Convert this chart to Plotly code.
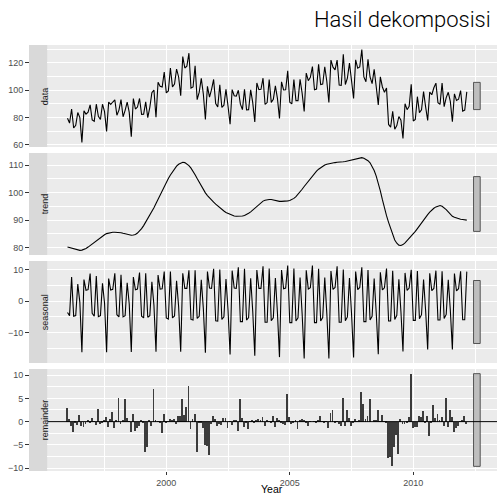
import numpy as np
import plotly.graph_objects as go

# STL decomposition of a monthly index, Jan 1996 - Mar 2012
start_year = 1996

trend = [
    80.2, 80.0, 79.7, 79.5, 79.3, 79.1, 79.0, 79.1, 79.3, 79.7, 80.2, 80.8,
    81.4, 82.0, 82.6, 83.2, 83.8, 84.3, 84.7, 85.1, 85.3, 85.5, 85.6, 85.6,
    85.6, 85.5, 85.4, 85.2, 85.0, 84.8, 84.6, 84.5, 84.6, 84.8, 85.3, 86.0,
    86.9, 88.0, 89.2, 90.5, 91.8, 93.1, 94.5, 96.0, 97.6, 99.2, 100.8, 102.3,
    103.7, 105.1, 106.4, 107.6, 108.7, 109.6, 110.3, 110.8, 111.0, 110.9, 110.5, 109.8,
    108.9, 107.8, 106.5, 105.1, 103.7, 102.3, 101.0, 99.9, 98.9, 98.0, 97.2, 96.5,
    95.8, 95.1, 94.5, 93.9, 93.3, 92.8, 92.4, 92.0, 91.7, 91.5, 91.4, 91.4,
    91.4, 91.5, 91.7, 92.0, 92.5, 93.0, 93.7, 94.4, 95.1, 95.8, 96.4, 96.9,
    97.2, 97.4, 97.5, 97.5, 97.3, 97.1, 96.9, 96.8, 96.8, 96.8, 96.9, 97.0,
    97.1, 97.4, 97.9, 98.5, 99.3, 100.2, 101.2, 102.2, 103.2, 104.2, 105.2, 106.1,
    107.0, 107.8, 108.5, 109.1, 109.6, 110.0, 110.3, 110.5, 110.7, 110.8, 110.9, 111.0,
    111.0, 111.1, 111.2, 111.3, 111.5, 111.7, 111.9, 112.1, 112.3, 112.5, 112.6, 112.7,
    112.5, 112.1, 111.6, 110.8, 109.6, 108.0, 106.0, 103.5, 100.6, 97.4, 94.2, 91.6,
    89.2, 86.8, 84.6, 82.8, 81.6, 80.9, 80.8, 81.1, 81.7, 82.5, 83.3, 84.1,
    85.0, 85.9, 86.9, 88.0, 89.1, 90.1, 91.1, 92.0, 92.9, 93.7, 94.3, 94.8,
    95.2, 95.3, 95.0, 94.5, 93.8, 93.0, 92.1, 91.4, 91.0, 90.7, 90.5, 90.3,
    90.2, 90.1, 90.0,
]

seasonal = [
    -3.6, -4.6, 7.6, -4.8, -4.6, 5.4, -0.4, -16.2, 6.8, 3.4, 3.6, 8.7,
    -3.9, -4.8, 7.9, -4.9, -4.6, 5.6, -0.6, -16.2, 7.1, 3.5, 3.7, 8.8,
    -4.3, -5.0, 8.3, -5.0, -4.6, 5.8, -0.9, -16.1, 7.6, 3.6, 3.8, 9.0,
    -4.8, -5.3, 8.8, -5.1, -4.6, 6.1, -1.3, -16.0, 8.2, 3.8, 3.9, 9.3,
    -5.3, -5.7, 9.3, -5.3, -4.7, 6.4, -1.8, -16.0, 8.8, 4.0, 4.0, 9.7,
    -5.8, -6.0, 9.7, -5.5, -4.8, 6.7, -2.3, -16.3, 9.3, 4.1, 4.0, 10.2,
    -6.2, -6.3, 10.0, -5.8, -5.0, 7.0, -2.8, -16.9, 9.6, 4.1, 4.0, 10.7,
    -6.5, -6.5, 10.2, -6.0, -5.2, 7.2, -3.2, -17.3, 9.8, 4.0, 4.0, 11.0,
    -6.7, -6.7, 10.3, -6.2, -5.3, 7.3, -3.6, -17.7, 9.8, 3.9, 4.1, 11.2,
    -6.8, -6.8, 10.3, -6.3, -5.3, 7.4, -3.9, -18.1, 9.7, 3.8, 4.2, 11.2,
    -6.8, -6.8, 10.2, -6.3, -5.2, 7.4, -4.0, -18.1, 9.5, 3.7, 4.3, 11.0,
    -6.7, -6.7, 10.0, -6.2, -5.0, 7.3, -3.9, -17.8, 9.3, 3.6, 4.3, 10.7,
    -6.5, -6.5, 9.8, -6.0, -4.8, 7.1, -3.6, -16.8, 9.1, 3.5, 4.2, 10.3,
    -6.3, -6.3, 9.6, -5.8, -4.5, 6.9, -3.3, -15.9, 8.9, 3.4, 4.1, 9.9,
    -6.1, -6.1, 9.5, -5.6, -4.3, 6.8, -3.0, -15.3, 8.8, 3.3, 4.0, 9.6,
    -6.0, -6.0, 9.4, -5.5, -4.2, 6.7, -2.8, -15.3, 8.7, 3.2, 3.9, 9.4,
    -5.9, -5.9, 9.3,
]

remainder = [
    2.9, 0.6, -1.0, -2.3, -0.3, -0.8, 1.4, -1.0, -1.2, -0.5, 0.2, -0.2,
    0.8, 0.1, -0.7, 2.7, -0.6, -0.1, 0.2, 1.0, -1.1, 0.6, 2.1, -1.4,
    0.4, 5.0, -0.6, 0.4, 4.9, 0.8, 0.1, -2.3, 1.7, -2.1, -1.4, -1.0,
    0.3, -0.2, -6.5, -5.5, 0.3, -1.0, 7.0, 0.2, 0.1, -0.1, -2.4, 1.7,
    -0.3, 0.1, 0.6, 0.2, 0.6, -0.6, 1.2, 1.2, 4.8, 1.4, 3.1, 7.6,
    -1.5, 0.6, 1.7, -6.5, -0.3, -0.3, -1.4, -5.0, -5.3, -7.1, -0.5, 1.2,
    0.6, -1.0, -0.5, -0.7, 0.8, 0.8, -1.3, 0.1, -0.8, 0.4, 0.3, -2.1,
    4.9, 0.8, -1.2, -0.3, -1.5, 0.1, 0.4, -0.3, 0.4, 0.6, 0.3, 0.9,
    -0.9, 0.3, 0.1, -0.2, 1.3, -1.2, 0.8, 0.2, -0.4, -0.5, -0.7, 6.0,
    0.9, -0.6, -0.3, 0.2, -1.6, 0.4, 0.6, 0.4, -0.3, -1.0, 0.1, 0.0,
    0.1, -0.1, 0.2, 1.3, 0.1, -0.2, 0.1, -1.4, 1.9, 2.4, -0.3, 0.1,
    -0.5, -0.9, 5.1, -0.9, 2.4, 0.8, -1.0, -0.3, 0.6, 0.1, 0.2, 6.3,
    3.7, 0.6, 1.2, 4.9, 0.0, 0.2, 0.2, 2.6, 0.1, 1.5, 0.1, -0.3,
    -7.9, -7.5, -9.6, -5.5, -2.9, -7.0, 0.6, -0.5, -0.5, -0.1, 0.9, 10.3,
    -1.4, -1.1, -1.1, 1.2, 0.9, 2.2, -0.3, 1.2, -3.0, -0.3, 3.5, 0.8,
    1.7, 0.4, 0.9, -1.0, 5.0, -1.2, 2.6, 0.9, -2.3, -1.4, -1.0, 0.1,
    0.4, 1.3, -0.5,
]

panel_names = ["data", "trend", "seasonal", "remainder"]
year_ticks = [2000, 2005, 2010]
year_minor = [1997.5, 2002.5, 2007.5, 2012.5]
y_major = [[60, 80, 100, 120], [80, 90, 100, 110], [-10, 0, 10], [-10, -5, 0, 5, 10]]
y_minor = [[70, 90, 110, 130], [75, 85, 95, 105], [-15, -5, 5], [-7.5, -2.5, 2.5, 7.5]]

t = start_year + np.arange(len(trend)) / 12.0
tr = np.array(trend)
se = np.array(seasonal)
re = np.array(remainder)
series = [tr + se + re, tr, se, re]

# layout geometry
x_dom = [0.0395, 1.0]
domains = [[0.7606, 1.0], [0.5070, 0.7465], [0.2535, 0.4930], [0.0, 0.2394]]
ax_ids = ["y", "y2", "y3", "y4"]
ax_keys = ["yaxis", "yaxis2", "yaxis3", "yaxis4"]
tick_font = dict(family="Liberation Sans, Arial, sans-serif", size=9, color="#4D4D4D")

fig = go.Figure()
for k in range(3):
    fig.add_trace(go.Scatter(x=t, y=series[k], mode="lines", yaxis=ax_ids[k],
                             line=dict(color="black", width=1.1), hoverinfo="skip"))
fig.add_trace(go.Bar(x=t, y=series[3], yaxis="y4", width=0.036,
                     marker=dict(color="#3C3C3C", line=dict(width=0)), hoverinfo="skip"))

# shared bar height for the range bars: smallest span among the components
spans = [float(np.max(s) - np.min(s)) for s in series]
bar_h = min(spans)

shapes = []
annotations = []
layout_axes = {}
for k in range(4):
    s = series[k]
    lo, hi = float(np.min(s)), float(np.max(s))
    pad = 0.05 * (hi - lo)
    layout_axes[ax_keys[k]] = dict(
        domain=domains[k], anchor="free", position=0, range=[lo - pad, hi + pad],
        tickvals=y_major[k], ticks="outside", ticklen=4, tickwidth=1, tickcolor="#333333",
        tickfont=tick_font, showgrid=True, gridcolor="white", gridwidth=1.1,
        zeroline=False, showline=False, fixedrange=True,
        minor=dict(tickvals=y_minor[k], showgrid=True, gridcolor="white", gridwidth=0.5, ticks=""),
    )
    yref = ax_ids[k]
    # panel background
    shapes.append(dict(type="rect", xref="x domain", yref=f"{yref} domain", x0=0, x1=1, y0=0, y1=1,
                       fillcolor="#EBEBEB", line=dict(width=0), layer="below"))
    # strip on the left
    shapes.append(dict(type="rect", xref="paper", yref=f"{yref} domain", x0=0, x1=x_dom[0], y0=0, y1=1,
                       fillcolor="#D9D9D9", line=dict(width=0), layer="below"))
    annotations.append(dict(text=panel_names[k], xref="paper", yref=f"{yref} domain",
                            x=x_dom[0] / 2, y=0.5, textangle=-90, showarrow=False,
                            font=dict(family="Liberation Sans, Arial, sans-serif", size=9, color="#1A1A1A")))
    # range bar
    mid = (lo + hi) / 2
    shapes.append(dict(type="rect", xref="x", yref=yref, x0=2012.44, x1=2012.71,
                       y0=mid - bar_h / 2, y1=mid + bar_h / 2,
                       fillcolor="#BEBEBE", line=dict(color="#333333", width=0.8), layer="above"))

# zero line in the remainder panel
shapes.append(dict(type="line", xref="x domain", yref="y4", x0=0, x1=1, y0=0, y1=0,
                   line=dict(color="black", width=1), layer="above"))

annotations.append(dict(text="Hasil dekomposisi", xref="paper", yref="paper", x=1, y=1.0587,
                        xanchor="right", yanchor="middle", xshift=-4, showarrow=False,
                        font=dict(family="Roboto, Liberation Sans, sans-serif", size=22,
                                  color="black", weight=300)))
annotations.append(dict(text="Year", xref="paper", yref="paper", x=(x_dom[0] + x_dom[1]) / 2, y=-0.042,
                        xanchor="center", yanchor="middle", showarrow=False,
                        font=dict(family="Liberation Sans, Arial, sans-serif", size=10.5, color="black")))

fig.update_layout(
    width=497, height=496,
    margin=dict(l=29, r=0, t=45, b=25),
    paper_bgcolor="white", plot_bgcolor="white",
    showlegend=False, bargap=0,
    xaxis=dict(domain=x_dom, anchor="y4", range=[1995.19, 2013.39], tickvals=year_ticks,
               ticks="outside", ticklen=3, tickwidth=1, tickcolor="#333333", tickfont=tick_font,
               showgrid=True, gridcolor="white", gridwidth=1.1, zeroline=False, showline=False,
               fixedrange=True,
               minor=dict(tickvals=year_minor, showgrid=True, gridcolor="white", gridwidth=0.5, ticks="")),
    shapes=shapes,
    annotations=annotations,
    **layout_axes,
)

fig.write_html("out.html", config={"displayModeBar": False})
